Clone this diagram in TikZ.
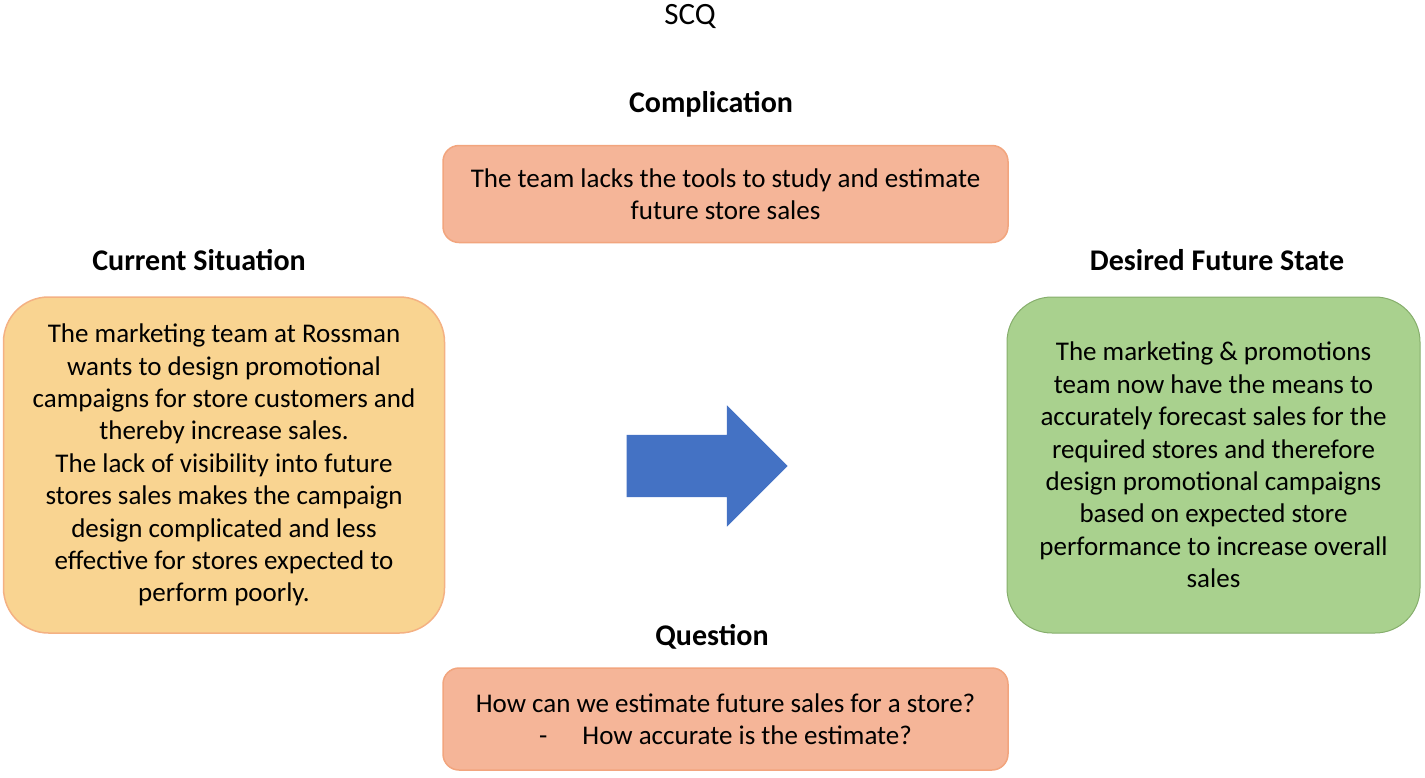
\documentclass[tikz,border=0pt]{standalone}
\usepackage{fontspec}
\setmainfont{Carlito}
\usepackage{xcolor}
\usetikzlibrary{positioning,shapes.arrows}

\definecolor{sitfill}{HTML}{F9D491}
\definecolor{sitdraw}{HTML}{F4B183}
\definecolor{compfill}{HTML}{F5B598}
\definecolor{compdraw}{HTML}{F2A57E}
\definecolor{goalfill}{HTML}{A9D18E}
\definecolor{goaldraw}{HTML}{86AE6C}
\definecolor{arrowblue}{HTML}{4472C4}

\begin{document}
\begin{tikzpicture}[
    x=1pt, y=-1pt,
    font=\fontsize{27}{32.4}\selectfont,
    box/.style={
        rectangle,
        draw,
        line width=1.5pt,
        align=center,
        inner sep=0pt
    },
    bigbox/.style={
        box,
        minimum width=441pt,
        minimum height=336pt,
        rounded corners=45pt
    },
    widebox/.style={
        box,
        draw=compdraw,
        fill=compfill,
        minimum width=565pt,
        minimum height=97pt,
        rounded corners=16pt
    },
    heading/.style={font=\fontsize{30}{32}\selectfont\bfseries}
]
    \useasboundingbox (0,0) rectangle (1425,777);

    % Title
    \node[font=\fontsize{31}{32}\selectfont] (title) at (690,16) {SCQ};

    % Complication
    \node[heading] (comphead) at (711,104) {Complication};
    \node[widebox] (comp) at (725.5,194) {The team lacks the tools to study and estimate\\future store sales};

    % Current Situation
    \node[heading] (sithead) at (199,260) {Current Situation};
    \node[bigbox, draw=sitdraw, fill=sitfill] (sit) at (224,465) {The marketing team at Rossman\\wants to design promotional\\campaigns for store customers and\\thereby increase sales.\\The lack of visibility into future\\stores sales makes the campaign\\design complicated and less\\effective for stores expected to\\perform poorly.};

    % Desired Future State
    \node[heading] (goalhead) at (1217,260) {Desired Future State};
    \node[bigbox, minimum width=413pt, line width=1pt, draw=goaldraw, fill=goalfill] (goal) at (1213.5,465) {The marketing \& promotions\\team now have the means to\\accurately forecast sales for the\\required stores and therefore\\design promotional campaigns\\based on expected store\\performance to increase overall\\sales};

    % Question
    \node[heading] (queshead) at (712,637) {Question};
    \node[widebox, minimum height=102pt] (ques) at (725.5,719) {How can we estimate future sales for a store?\\-\hspace{1.3em}How accurate is the estimate?};

    % Big arrow
    \node[single arrow, fill=arrowblue, inner xsep=0pt, inner ysep=31pt,
          minimum height=161pt, minimum width=121pt,
          single arrow head extend=29.5pt] (move) at (691.5,466) {};
\end{tikzpicture}
\end{document}
